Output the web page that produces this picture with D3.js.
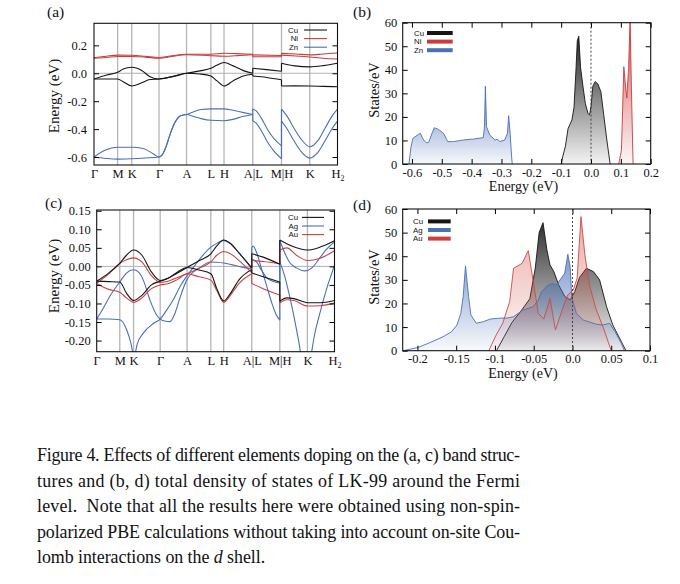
<!DOCTYPE html>
<html><head><meta charset="utf-8">
<script src="https://cdn.jsdelivr.net/npm/d3@7"></script>
<style>body{margin:0;background:#fff}svg{display:block}</style>
</head><body>
<svg id="chart" width="680" height="584"></svg>
<script>
// ---------- data ----------
const kLabels = ["Γ","M","K","Γ","A","L","H","A|L","M|H","K","H2"];
const kPos = [0, 0.097, 0.155, 0.267, 0.38, 0.48, 0.534, 0.652, 0.77, 0.886, 1];

const ticksA_y = [-0.6,-0.4,-0.2,0,0.2];
const labelsA_y = ["-0.6","-0.4","-0.2","0.0","0.2"];
const ticksC_y = [-0.2,-0.15,-0.1,-0.05,0,0.05,0.1,0.15];
const labelsC_y = ["-0.20","-0.15","-0.10","-0.05","0.00","0.05","0.10","0.15"];
const ticksB_x = [-0.6,-0.5,-0.4,-0.3,-0.2,-0.1,0,0.1,0.2];
const labelsB_x = ["-0.6","-0.5","-0.4","-0.3","-0.2","-0.1","0.0","0.1","0.2"];
const ticksD_x = [-0.2,-0.15,-0.1,-0.05,0,0.05,0.1];
const labelsD_x = ["-0.2","-0.15","-0.1","-0.05","0.0","0.05","0.1"];
const ticksDos_y = [0,10,20,30,40,50,60];
const labelsDos_y = ["0","10","20","30","40","50","60"];

// panel (a) bands [k, E]
const bandsA_Cu = [
 [[0,-0.041],[0.052,-0.012],[0.097,0.007],[0.12,0.03],[0.155,0.043],[0.196,0.02],[0.23,-0.025],[0.267,-0.041],[0.326,-0.022],[0.38,0.0],[0.435,0.017],[0.48,0.036],[0.504,0.058],[0.534,0.077],[0.572,0.053],[0.613,0.019],[0.652,0.0],[0.652,0.036],[0.709,0.026],[0.77,0.014],[0.77,0.072],[0.825,0.053],[0.886,0.046],[0.942,0.055],[1,0.072]],
 [[0,-0.041],[0.052,-0.041],[0.097,-0.041],[0.12,-0.06],[0.155,-0.091],[0.196,-0.068],[0.23,-0.045],[0.267,-0.041],[0.326,-0.022],[0.38,0.0],[0.435,-0.005],[0.48,-0.019],[0.504,-0.053],[0.534,-0.091],[0.572,-0.053],[0.613,-0.019],[0.652,-0.007],[0.652,-0.019],[0.709,-0.03],[0.77,-0.046],[0.77,-0.091],[0.825,-0.09],[0.886,-0.091],[0.942,-0.094],[1,-0.096]]
];
const bandsA_Ni = [
 [[0,0.112],[0.05,0.122],[0.097,0.13],[0.155,0.129],[0.21,0.122],[0.267,0.113],[0.32,0.125],[0.38,0.136],[0.48,0.136],[0.534,0.143],[0.6,0.14],[0.652,0.136],[0.652,0.132],[0.77,0.127],[0.77,0.143],[0.83,0.138],[0.886,0.132],[0.94,0.138],[1,0.145]],
 [[0,0.108],[0.05,0.113],[0.097,0.12],[0.155,0.12],[0.21,0.116],[0.267,0.108],[0.32,0.12],[0.38,0.133],[0.48,0.126],[0.534,0.122],[0.6,0.128],[0.652,0.133],[0.652,0.118],[0.77,0.118],[0.77,0.13],[0.83,0.124],[0.886,0.117],[0.94,0.108],[1,0.102]]
];
const bandsA_Zn = [
 [[0,-0.6],[0.045,-0.552],[0.097,-0.53],[0.155,-0.53],[0.205,-0.54],[0.246,-0.58],[0.267,-0.6],[0.28,-0.585],[0.295,-0.53],[0.31,-0.45],[0.325,-0.38],[0.34,-0.33],[0.355,-0.305],[0.38,-0.295],[0.41,-0.275],[0.44,-0.26],[0.48,-0.255],[0.534,-0.255],[0.57,-0.265],[0.61,-0.28],[0.652,-0.295],[0.652,-0.256],[0.665,-0.268],[0.69,-0.33],[0.715,-0.41],[0.74,-0.47],[0.77,-0.52],[0.77,-0.256],[0.79,-0.3],[0.82,-0.39],[0.85,-0.47],[0.886,-0.526],[0.92,-0.48],[0.95,-0.39],[0.98,-0.3],[1,-0.256]],
 [[0,-0.6],[0.05,-0.61],[0.097,-0.615],[0.155,-0.612],[0.21,-0.607],[0.267,-0.6],[0.28,-0.585],[0.295,-0.53],[0.31,-0.45],[0.325,-0.38],[0.34,-0.33],[0.355,-0.305],[0.38,-0.295],[0.41,-0.31],[0.44,-0.325],[0.48,-0.337],[0.534,-0.34],[0.57,-0.33],[0.61,-0.31],[0.652,-0.295],[0.652,-0.342],[0.665,-0.355],[0.69,-0.42],[0.715,-0.5],[0.74,-0.56],[0.77,-0.612],[0.77,-0.342],[0.79,-0.39],[0.82,-0.48],[0.85,-0.56],[0.886,-0.608],[0.92,-0.565],[0.95,-0.48],[0.98,-0.39],[1,-0.342]]
];

// panel (c) bands [k, E]
const bandsC_Cu = [
 [[0,-0.04],[0.05,-0.018],[0.097,0.008],[0.125,0.03],[0.155,0.044],[0.19,0.03],[0.23,-0.015],[0.267,-0.038],[0.3,-0.032],[0.34,-0.018],[0.38,-0.003],[0.43,0.015],[0.48,0.034],[0.505,0.055],[0.534,0.071],[0.56,0.063],[0.6,0.035],[0.652,-0.004],[0.652,0.034],[0.7,0.025],[0.77,0.006],[0.77,0.071],[0.82,0.055],[0.886,0.044],[0.94,0.052],[1,0.069]],
 [[0,-0.04],[0.05,-0.041],[0.097,-0.042],[0.125,-0.072],[0.155,-0.092],[0.19,-0.078],[0.23,-0.05],[0.267,-0.04],[0.3,-0.032],[0.34,-0.015],[0.38,-0.003],[0.43,-0.01],[0.48,-0.02],[0.505,-0.06],[0.534,-0.093],[0.56,-0.075],[0.6,-0.035],[0.652,-0.008],[0.652,-0.018],[0.7,-0.028],[0.77,-0.042],[0.77,-0.094],[0.8,-0.085],[0.83,-0.087],[0.886,-0.098],[0.94,-0.098],[1,-0.092]]
];
const bandsC_Ag = [
 [[0,-0.142],[0.05,-0.142],[0.097,-0.144],[0.126,-0.171],[0.145,-0.21],[0.157,-0.245],[0.17,-0.21],[0.196,-0.18],[0.238,-0.154],[0.267,-0.142],[0.294,-0.118],[0.322,-0.09],[0.35,-0.055],[0.38,-0.025],[0.41,0.0],[0.44,0.025],[0.48,0.052],[0.505,0.062],[0.534,0.07],[0.56,0.062],[0.6,0.035],[0.652,-0.006],[0.652,0.05],[0.657,0.055],[0.672,0.038],[0.693,-0.006],[0.714,-0.051],[0.735,-0.096],[0.756,-0.132],[0.77,-0.145],[0.77,0.07],[0.785,0.045],[0.81,0.012],[0.84,-0.004],[0.875,-0.012],[0.905,-0.004],[0.935,0.02],[0.965,0.045],[1,0.066]],
 [[0,-0.142],[0.03,-0.11],[0.056,-0.08],[0.097,-0.042],[0.125,-0.018],[0.155,-0.009],[0.175,-0.015],[0.196,-0.037],[0.224,-0.091],[0.252,-0.131],[0.267,-0.142],[0.29,-0.148],[0.308,-0.149],[0.33,-0.125],[0.35,-0.085],[0.38,-0.035],[0.43,-0.005],[0.48,0.012],[0.505,0.011],[0.534,0.009],[0.57,0.004],[0.61,-0.002],[0.652,-0.006],[0.652,0.02],[0.672,0.012],[0.693,-0.01],[0.714,-0.03],[0.74,-0.04],[0.77,-0.045],[0.77,0.013],[0.789,-0.023],[0.81,-0.077],[0.831,-0.14],[0.849,-0.2],[0.865,-0.26],[0.88,-0.285],[0.895,-0.26],[0.916,-0.185],[0.944,-0.113],[0.972,-0.05],[0.993,-0.01],[1,0.004]]
];
const bandsC_Au = [
 [[0,-0.046],[0.05,-0.02],[0.097,0.008],[0.125,0.018],[0.155,0.023],[0.19,0.012],[0.23,-0.025],[0.267,-0.043],[0.3,-0.04],[0.34,-0.03],[0.38,-0.02],[0.43,-0.005],[0.48,0.012],[0.505,0.03],[0.534,0.04],[0.56,0.035],[0.6,0.015],[0.652,-0.017],[0.652,0.016],[0.7,0.013],[0.77,0.007],[0.77,0.044],[0.8,0.05],[0.84,0.03],[0.886,0.016],[0.94,0.022],[1,0.042]],
 [[0,-0.046],[0.05,-0.062],[0.097,-0.07],[0.125,-0.085],[0.155,-0.097],[0.19,-0.085],[0.23,-0.06],[0.267,-0.05],[0.3,-0.047],[0.34,-0.035],[0.38,-0.02],[0.43,-0.028],[0.48,-0.037],[0.505,-0.065],[0.534,-0.097],[0.56,-0.08],[0.6,-0.045],[0.652,-0.02],[0.652,-0.046],[0.7,-0.06],[0.77,-0.077],[0.77,-0.099],[0.8,-0.09],[0.83,-0.092],[0.886,-0.107],[0.94,-0.106],[1,-0.099]]
];

// panel (b) DOS [E, states/eV]
const dosB_Zn = [[-0.61,0],[-0.603,7.4],[-0.597,10.9],[-0.578,12.6],[-0.572,13],[-0.561,10.2],[-0.552,9],[-0.544,9.2],[-0.533,13],[-0.525,15.4],[-0.511,14.7],[-0.494,13],[-0.48,9.5],[-0.461,9.5],[-0.428,10.2],[-0.394,10.6],[-0.361,11.2],[-0.357,15.8],[-0.354,33],[-0.35,15.8],[-0.339,12.3],[-0.322,10.2],[-0.313,10.5],[-0.306,9.5],[-0.289,10.2],[-0.28,13],[-0.276,20.5],[-0.271,13],[-0.266,3],[-0.264,0]];
const dosB_Cu = [[-0.1,0],[-0.095,3],[-0.086,7.4],[-0.077,15],[-0.064,18.7],[-0.057,24],[-0.05,41],[-0.046,52.3],[-0.041,54.3],[-0.035,41],[-0.027,33],[-0.019,25.7],[-0.01,21.5],[-0.005,20.8],[0.0,24.3],[0.006,33],[0.014,35],[0.023,34],[0.033,30.7],[0.042,21.5],[0.053,10.2],[0.064,0]];
const dosB_Ni = [[0.093,0],[0.102,6],[0.11,41.3],[0.115,34],[0.12,28],[0.126,41],[0.131,62],[0.135,34],[0.141,0]];

// panel (d) DOS [E, states/eV]
const dosD_Cu = [[-0.098,0],[-0.088,6],[-0.078,12],[-0.066,17],[-0.055,22],[-0.048,35],[-0.043,50],[-0.038,54.2],[-0.033,42.7],[-0.029,36.3],[-0.024,33.5],[-0.018,28],[-0.01,23],[-0.003,21.5],[0.003,25],[0.009,31],[0.018,34.9],[0.027,33.5],[0.035,30],[0.044,18.6],[0.052,10.9],[0.069,0]];
const dosD_Ag = [[-0.218,0],[-0.199,1.4],[-0.184,3.4],[-0.167,5.9],[-0.156,8],[-0.149,10.9],[-0.144,15.8],[-0.141,22.9],[-0.138,35.9],[-0.134,22.9],[-0.131,15.1],[-0.124,11.6],[-0.115,12.3],[-0.106,13.4],[-0.094,13.8],[-0.085,13.8],[-0.076,14.4],[-0.064,17.2],[-0.051,18.6],[-0.044,21.5],[-0.04,25],[-0.033,27.4],[-0.026,28.5],[-0.021,27.8],[-0.016,30],[-0.01,32.8],[-0.006,40.8],[-0.003,35.6],[-0.001,22.9],[0.005,15.8],[0.014,13],[0.031,11.2],[0.039,10.9],[0.048,11.6],[0.055,8],[0.063,3.1],[0.067,0]];
const dosD_Au = [[-0.108,0],[-0.0985,6.6],[-0.09,11.6],[-0.081,20.8],[-0.076,34.9],[-0.065,37],[-0.057,42.4],[-0.044,15.8],[-0.037,13.4],[-0.029,22.2],[-0.022,8.8],[-0.011,19.4],[-0.006,23.6],[0.001,25.7],[0.006,30.7],[0.011,56.8],[0.016,40.5],[0.022,27.8],[0.03,18],[0.04,9.5],[0.05,0]];

const captionLines = [
 "Figure 4. Effects of different elements doping on the (a, c) band struc-",
 "tures and (b, d) total density of states of LK-99 around the Fermi",
 "level.  Note that all the results here were obtained using non-spin-",
 "polarized PBE calculations without taking into account on-site Cou-"
];

// ---------- drawing ----------
const SERIF = "'Liberation Serif','Times New Roman',serif";
const SANS = "'Liberation Sans',Arial,sans-serif";
const C = {Cu:"#151515", Ni:"#cc3b3b", Zn:"#4a70b5", Ag:"#4a70b5", Au:"#cc4040"};
const svg = d3.select("#chart");
const defs = svg.append("defs");

function makeClip(id, x, y){
  defs.append("clipPath").attr("id", id).append("rect")
    .attr("x", x.range()[0]).attr("y", y.range()[1])
    .attr("width", x.range()[1]-x.range()[0]).attr("height", y.range()[0]-y.range()[1]);
}
function styleText(s, size){ s.selectAll("text").attr("font-family", SERIF).attr("font-size", size).attr("fill","#111"); }
function frame(x, y){
  svg.append("rect").attr("x", x.range()[0]).attr("y", y.range()[1])
    .attr("width", x.range()[1]-x.range()[0]).attr("height", y.range()[0]-y.range()[1])
    .attr("fill","none").attr("stroke","#111").attr("stroke-width",1.1);
}
function yAxes(x, y, vals, labels, pad){
  svg.append("g").attr("transform",`translate(${x.range()[0]},0)`)
    .call(d3.axisLeft(y).tickValues(vals).tickFormat((d,i)=>labels[i]).tickSizeInner(-5).tickSizeOuter(0).tickPadding(pad))
    .call(s=>{s.select(".domain").remove(); styleText(s,12.5);});
  svg.append("g").attr("transform",`translate(${x.range()[1]},0)`)
    .call(d3.axisRight(y).tickValues(vals).tickFormat("").tickSizeInner(-5).tickSizeOuter(0))
    .call(s=>s.select(".domain").remove());
}
function kAxis(x, y, pad){
  const g = svg.append("g");
  g.selectAll("line").data(kPos.slice(1,-1)).join("line")
    .attr("x1", d=>x(d)).attr("x2", d=>x(d)).attr("y1", y.range()[1]).attr("y2", y.range()[0])
    .attr("stroke","#b5b5b5").attr("stroke-width",1.3);
  g.append("line").attr("x1", x.range()[0]).attr("x2", x.range()[1]).attr("y1", y(0)).attr("y2", y(0))
    .attr("stroke","#b0b0b0").attr("stroke-width",1);
  svg.append("g").attr("transform",`translate(0,${y.range()[0]})`)
    .call(d3.axisBottom(x).tickValues(kPos).tickFormat((d,i)=>kLabels[i]).tickSize(0).tickPadding(pad))
    .call(s=>{s.select(".domain").remove(); styleText(s,12.5);
      s.selectAll(".tick text").each(function(d,i){
        if(kLabels[i]==="H2"){ const t=d3.select(this); t.text("H"); t.append("tspan").attr("font-size",8).attr("dy",3).text("2"); }
      });});
}
function drawBands(x, y, bands, color, clipId){
  const line = d3.line().x(d=>x(d[0])).y(d=>y(d[1])).curve(d3.curveMonotoneX);
  const g = svg.append("g").attr("clip-path",`url(#${clipId})`).attr("fill","none")
    .attr("stroke", color).attr("stroke-width",1.1);
  bands.forEach(b=>{
    const segs=[[b[0]]];
    for(let i=1;i<b.length;i++){
      if(b[i][0]===b[i-1][0]){
        g.append("line").attr("x1",x(b[i][0])).attr("x2",x(b[i][0])).attr("y1",y(b[i-1][1])).attr("y2",y(b[i][1]));
        segs.push([b[i]]);
      } else segs[segs.length-1].push(b[i]);
    }
    segs.forEach(s=>g.append("path").attr("d", line(s)));
  });
}
function bandLegend(items, xr, xl0, xl1, ys){
  items.forEach((it,i)=>{
    svg.append("text").attr("x",xr).attr("y",ys[i]).attr("dy","0.35em").attr("text-anchor","end")
      .attr("font-family",SANS).attr("font-size",7.8).attr("fill","#111").text(it[0]);
    svg.append("line").attr("x1",xl0).attr("x2",xl1).attr("y1",ys[i]).attr("y2",ys[i]).attr("stroke",it[1]).attr("stroke-width",1.1);
  });
}
function dosLegend(items, xt, xl0, xl1, ys){
  items.forEach((it,i)=>{
    svg.append("text").attr("x",xt).attr("y",ys[i]).attr("dy","0.35em").attr("text-anchor","start")
      .attr("font-family",SANS).attr("font-size",7.8).attr("fill","#111").text(it[0]);
    svg.append("line").attr("x1",xl0).attr("x2",xl1).attr("y1",ys[i]).attr("y2",ys[i]).attr("stroke",it[1]).attr("stroke-width",4);
  });
}
function gradient(id, color, top){
  const g = defs.append("linearGradient").attr("id",id).attr("x1",0).attr("y1",0).attr("x2",0).attr("y2",1);
  g.append("stop").attr("offset",0).attr("stop-color",color).attr("stop-opacity",top);
  g.append("stop").attr("offset",1).attr("stop-color",color).attr("stop-opacity",0.05);
}
function drawDos(x, y, data, color, gradId, clipId, opacity){
  const g = svg.append("g").attr("clip-path",`url(#${clipId})`);
  g.append("path").attr("d", d3.area().x(d=>x(d[0])).y0(y(0)).y1(d=>y(d[1]))(data))
    .attr("fill",`url(#${gradId})`).attr("fill-opacity",opacity);
  g.append("path").attr("d", d3.line().x(d=>x(d[0])).y(d=>y(d[1]))(data))
    .attr("fill","none").attr("stroke",color).attr("stroke-width",0.9);
}
function dosAxes(x, y, xt, xl, ypad, xpad){
  yAxes(x, y, ticksDos_y, labelsDos_y, ypad);
  svg.append("g").attr("transform",`translate(0,${y.range()[0]})`)
    .call(d3.axisBottom(x).tickValues(xt).tickFormat((d,i)=>xl[i]).tickSizeInner(-5).tickSizeOuter(0).tickPadding(xpad))
    .call(s=>{s.select(".domain").remove(); styleText(s,12.5);});
  svg.append("g").attr("transform",`translate(0,${y.range()[1]})`)
    .call(d3.axisTop(x).tickValues(xt).tickFormat("").tickSizeInner(-5).tickSizeOuter(0))
    .call(s=>s.select(".domain").remove());
  svg.append("line").attr("x1",x(0)).attr("x2",x(0)).attr("y1",y.range()[1]).attr("y2",y.range()[0])
    .attr("stroke","#444").attr("stroke-width",1).attr("stroke-dasharray","2,2");
}
function label(txt, x, y, size, rot){
  const t = svg.append("text").attr("font-family",SERIF).attr("font-size",size).attr("fill","#111")
    .attr("text-anchor", rot ? "middle" : "start").text(txt);
  if(rot) t.attr("transform",`translate(${x},${y}) rotate(-90)`).attr("dy","0.35em");
  else t.attr("x",x).attr("y",y);
}

gradient("gCu","#000",0.95); gradient("gNi",C.Ni,0.95); gradient("gZn",C.Zn,0.95);
gradient("gAg",C.Ag,0.9); gradient("gAu","#d24a3c",0.75); gradient("gCuD","#000",0.95);

// Panel (a)
const xA = d3.scaleLinear([0,1],[94,337.5]);
const yA = d3.scaleLinear([-0.657,0.358],[165,23.3]);
makeClip("clipA", xA, yA);
kAxis(xA, yA, 4.5);
drawBands(xA, yA, bandsA_Zn, C.Zn, "clipA");
drawBands(xA, yA, bandsA_Cu, C.Cu, "clipA");
drawBands(xA, yA, bandsA_Ni, C.Ni, "clipA");
yAxes(xA, yA, ticksA_y, labelsA_y, 7);
frame(xA, yA);
bandLegend([["Cu",C.Cu],["Ni",C.Ni],["Zn",C.Zn]], 298, 304, 327, [30,38.6,47.2]);
label("Energy (eV)", 53.5, 96, 15, true);
label("(a)", 47, 17, 15.5);

// Panel (c)
const xC = d3.scaleLinear([0,1],[96.7,334.5]);
const yC = d3.scaleLinear([-0.23,0.152],[351.7,210]);
makeClip("clipC", xC, yC);
kAxis(xC, yC, 4.5);
drawBands(xC, yC, bandsC_Ag, C.Ag, "clipC");
drawBands(xC, yC, bandsC_Au, C.Au, "clipC");
drawBands(xC, yC, bandsC_Cu, C.Cu, "clipC");
yAxes(xC, yC, ticksC_y, labelsC_y, 6);
frame(xC, yC);
bandLegend([["Cu",C.Cu],["Ag",C.Ag],["Au",C.Au]], 298, 302, 324, [217.4,226,234.6]);
label("Energy (eV)", 53.5, 276, 15, true);
label("(c)", 45, 208, 15.5);

// Panel (b)
const xB = d3.scaleLinear([-0.631,0.2],[402.7,650.7]);
const yB = d3.scaleLinear([0,60],[164,22.7]);
makeClip("clipB", xB, yB);
drawDos(xB, yB, dosB_Zn, C.Zn, "gZn", "clipB", 0.9);
drawDos(xB, yB, dosB_Cu, C.Cu, "gCu", "clipB", 0.9);
drawDos(xB, yB, dosB_Ni, C.Ni, "gNi", "clipB", 0.9);
dosAxes(xB, yB, ticksB_x, labelsB_x, 5.5, 4);
frame(xB, yB);
dosLegend([["Cu",C.Cu],["Ni",C.Ni],["Zn",C.Zn]], 414, 427, 452.7, [33,41.6,50.2]);
label("States/eV", 373.5, 90, 14.5, true);
label("(b)", 353, 16.5, 15.5);
svg.append("text").attr("x",523.5).attr("y",190.5).attr("text-anchor","middle").attr("font-family",SERIF).attr("font-size",14).attr("fill","#111").text("Energy (eV)");

// Panel (d)
const xD = d3.scaleLinear([-0.219,0.1],[402.7,650]);
const yD = d3.scaleLinear([0,60],[350.7,209]);
makeClip("clipD", xD, yD);
drawDos(xD, yD, dosD_Cu, C.Cu, "gCuD", "clipD", 0.85);
drawDos(xD, yD, dosD_Ag, C.Ag, "gAg", "clipD", 0.78);
drawDos(xD, yD, dosD_Au, "#cc4a4a", "gAu", "clipD", 0.62);
dosAxes(xD, yD, ticksD_x, labelsD_x, 5.5, 3.7);
frame(xD, yD);
dosLegend([["Cu",C.Cu],["Ag",C.Ag],["Au",C.Au]], 413, 428, 450.7, [221.4,230,238.6]);
label("States/eV", 373.5, 277, 14.5, true);
label("(d)", 353, 210, 15.5);
svg.append("text").attr("x",523).attr("y",378).attr("text-anchor","middle").attr("font-family",SERIF).attr("font-size",14).attr("fill","#111").text("Energy (eV)");

// Caption (slightly condensed serif, justified)
const capG = svg.append("g").attr("transform","translate(37,0) scale(0.92,1)");
const capBase = [461.5, 487, 512.3, 537.7];
captionLines.forEach((t,i)=>{
  capG.append("text").attr("x",0).attr("y",capBase[i]).attr("font-family",SERIF).attr("font-size",19.5)
    .attr("fill","#111").attr("textLength",525).attr("lengthAdjust","spacing").attr("xml:space","preserve").text(t);
});
const last = capG.append("text").attr("x",0).attr("y",563).attr("font-family",SERIF).attr("font-size",19.5)
  .attr("fill","#111").attr("textLength",248).attr("lengthAdjust","spacing");
last.append("tspan").text("lomb interactions on the ");
last.append("tspan").attr("font-style","italic").text("d");
last.append("tspan").text(" shell.");
</script>
</body></html>
